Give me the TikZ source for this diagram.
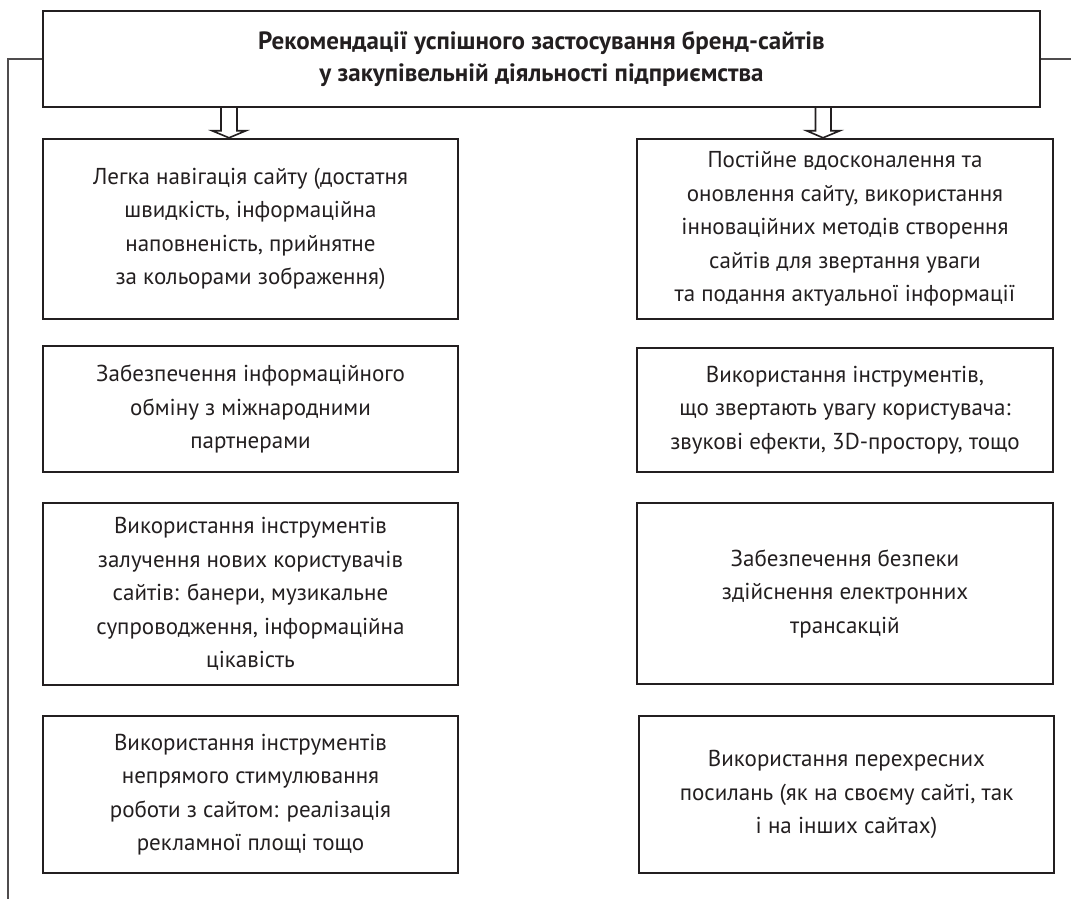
\documentclass[tikz,border=0pt]{standalone}
\usepackage{fontspec}
\setmainfont{PT Sans}
\usetikzlibrary{calc}
\definecolor{ink}{HTML}{231F20}
\tikzset{
  box/.style={draw=ink, line width=2.4pt, align=center, inner sep=0pt, text=ink,
    font=\fontsize{23}{33.5}\selectfont},
  titlebox/.style={box, font=\bfseries\fontsize{25}{32}\selectfont},
  link/.style={draw=ink!80, line width=1.3pt},
  hollow/.style={draw=ink, line width=1.6pt, fill=white, line join=miter}
}
\begin{document}
\begin{tikzpicture}[x=1pt,y=-1pt]
\useasboundingbox (0,0) rectangle (1071,899);
\node[titlebox, minimum width=997, minimum height=96] (title) at (541.5,59)
  {Рекомендації успішного застосування бренд-сайтів\\у закупівельній діяльності підприємства};

\node[box, minimum width=415, minimum height=180] (l1) at (250.5,229)
  {Легка навігація сайту (достатня\\швидкість, інформаційна\\наповненість, прийнятне\\за кольорами зображення)};
\node[box, minimum width=415, minimum height=126] (l2) at (250.5,409)
  {Забезпечення інформаційного\\обміну з міжнародними\\партнерами};
\node[box, minimum width=415, minimum height=182] (l3) at (250.5,594)
  {Використання інструментів\\залучення нових користувачів\\сайтів: банери, музикальне\\супроводження, інформаційна\\цікавість};
\node[box, minimum width=415, minimum height=157] (l4) at (250.5,794.5)
  {Використання інструментів\\непрямого стимулювання\\роботи з сайтом: реалізація\\рекламної площі тощо};

\node[box, minimum width=416, minimum height=180] (r1) at (845,229)
  {Постійне вдосконалення та\\оновлення сайту, використання\\інноваційних методів створення\\сайтів для звертання уваги\\та подання актуальної інформації};
\node[box, minimum width=416, minimum height=124] (r2) at (845,410)
  {Використання інструментів,\\що звертають увагу користувача:\\звукові ефекти, 3D-простору, тощо};
\node[box, minimum width=416, minimum height=181] (r3) at (845,593.5)
  {Забезпечення безпеки\\здійснення електронних\\трансакцій};
\node[box, minimum width=415, minimum height=157] (r4) at (846.5,794.5)
  {Використання перехресних\\посилань (як на своєму сайті, так\\і на інших сайтах)};

% side lines
\coordinate (lc) at (8,899);
\coordinate (rc) at (1071,59);
\draw[link] (title.west) -- (title.west -| lc) -- (lc);
\draw[link] (title.east) -- (rc);

% hollow arrows
\draw[hollow] (title.south -| 221,0) -- (221,130.7) -- (212,130.7) -- (l1.north -| 229,0)
  -- (246,130.7) -- (237,130.7) -- (title.south -| 237,0);
\draw[hollow] (title.south -| 815.5,0) -- (815.5,130.7) -- (806.5,130.7) -- (r1.north -| 823,0)
  -- (840,130.7) -- (831,130.7) -- (title.south -| 831,0);
\end{tikzpicture}
\end{document}
